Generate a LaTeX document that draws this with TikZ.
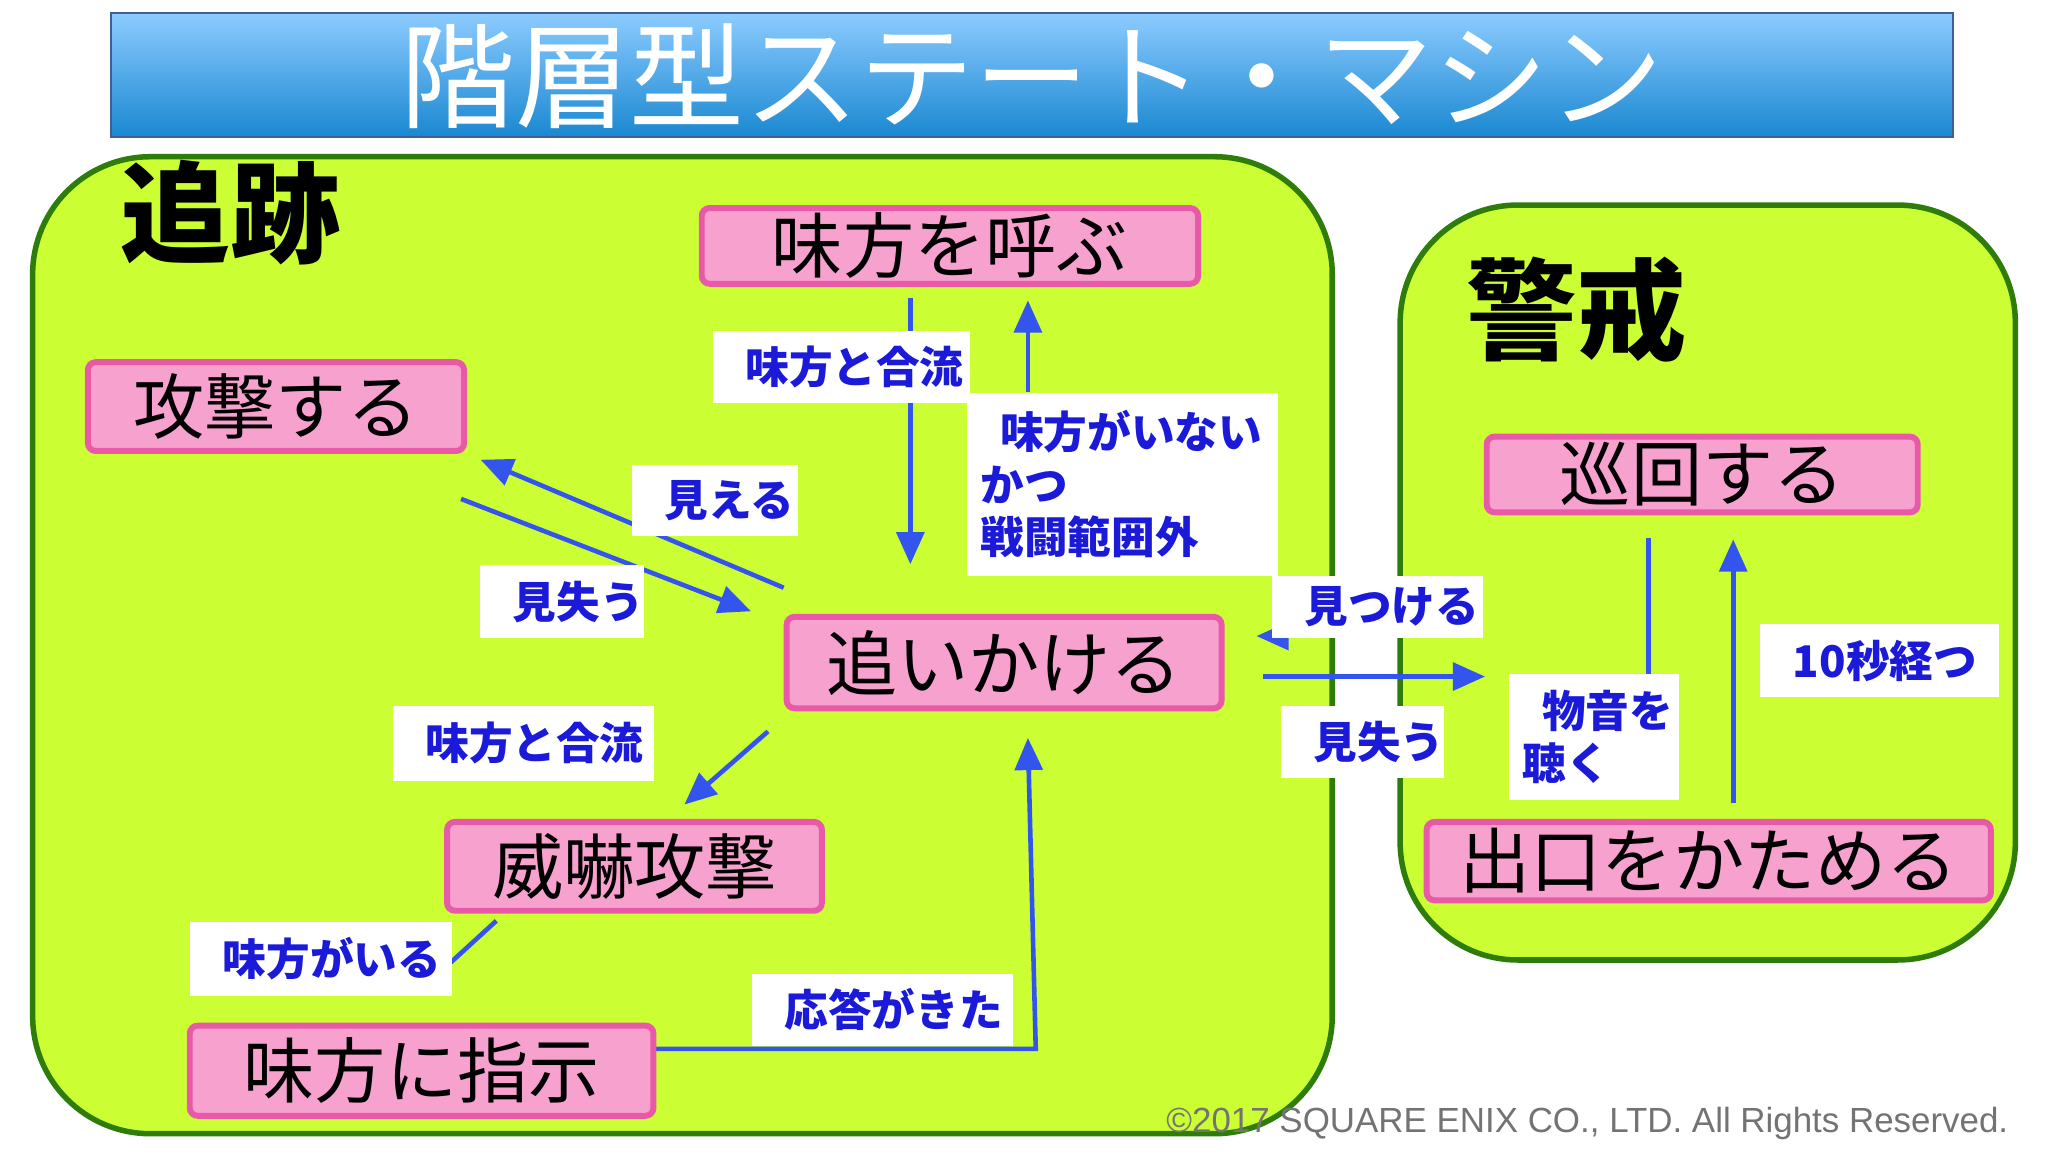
\documentclass[tikz,border=0pt]{standalone}
\usepackage{fontspec}
\setmainfont{Noto Sans CJK JP}
\newfontfamily\copyfont{Liberation Sans}
\usetikzlibrary{arrows.meta}
\definecolor{lime}{HTML}{CCFF33}
\definecolor{dgreen}{HTML}{2E7D0A}
\definecolor{pinkf}{HTML}{F7A1CF}
\definecolor{pinkd}{HTML}{E85AA8}
\definecolor{lblue}{HTML}{1A1AD8}
\definecolor{arr}{HTML}{3355EE}
\tikzset{
 x=0.01cm,y=-0.01cm,
 group/.style={draw=dgreen,line width=1.2pt,fill=lime,rounded corners=0.9cm},
 state/.style={draw=pinkd,fill=pinkf,line width=1.3pt,rounded corners=0.06cm,inner sep=0pt,font=\fontsize{15.5}{16}\selectfont,anchor=north west},
 lbl/.style={fill=white,inner sep=0pt,text=lblue,font=\fontsize{9.5}{11.5}\selectfont\bfseries\itshape,align=left,anchor=north west},
 arrw/.style={draw=arr,line width=1pt,-{Triangle[length=7pt,width=6pt]}},
 ln/.style={draw=arr,line width=1pt},
}
\newcommand{\statebox}[6]{\node[state,minimum width=#4*0.01cm,minimum height=#5*0.01cm] (#1) at (#2,#3) {#6};}
\newcommand{\lblbox}[6]{\node[lbl,minimum width=#4*0.01cm,minimum height=#5*0.01cm,text width=#4*0.01cm-0.2cm] (#1) at (#2,#3) {\hspace*{0.15cm}#6};}
\begin{document}
\begin{tikzpicture}
\useasboundingbox[fill=white] (0,0) rectangle (1568,882);
% title
\shade[top color=cyan!55!blue!45,bottom color=cyan!60!blue!80!black!90,draw=cyan!40!blue!70!black] (85,10) rectangle (1495,105);
\node[text=white,font=\fontsize{25}{26}\selectfont] (title) at (790,58) {階層型ステート・マシン};
% groups
\draw[group] (25,120) rectangle (1020,868);
\draw[group] (1072,157) rectangle (1543,735);
\node[anchor=west,font=\fontsize{24}{24}\selectfont\bfseries] (g1) at (80,163) {追跡};
\node[anchor=west,font=\fontsize{24}{24}\selectfont\bfseries] (g2) at (1110,237) {警戒};
% arrows behind labels
\coordinate (ca1) at (697,228); \coordinate (ca2) at (697,432);
\draw[arrw] (ca1) -- (ca2);
\coordinate (cb1) at (787,300); \coordinate (cb2) at (787,230);
\draw[arrw] (cb1) -- (cb2);
\coordinate (cc1) at (600,450); \coordinate (cc2) at (368,352);
\draw[arrw] (cc1) -- (cc2);
\coordinate (cd1) at (353,382); \coordinate (cd2) at (575,468);
\draw[arrw] (cd1) -- (cd2);
\coordinate (ce1) at (1000,487); \coordinate (ce2) at (962,487);
\draw[arrw] (ce1) -- (ce2);
\coordinate (cf1) at (967,518); \coordinate (cf2) at (1137,518);
\draw[arrw] (cf1) -- (cf2);
\coordinate (cg1) at (588,560); \coordinate (cg2) at (524,616);
\draw[arrw] (cg1) -- (cg2);
\coordinate (ch1) at (380,705); \coordinate (ch2) at (345,737);
\draw[ln] (ch1) -- (ch2);
\coordinate (ci1) at (498,803); \coordinate (ci2) at (793,803); \coordinate (ci3) at (787,565);
\draw[arrw] (ci1) -- (ci2) -- (ci3);
\coordinate (cj1) at (1262,412); \coordinate (cj2) at (1262,530);
\draw[ln] (cj1) -- (cj2);
\coordinate (ck1) at (1327,615); \coordinate (ck2) at (1327,413);
\draw[arrw] (ck1) -- (ck2);
% states
\statebox{s1}{535}{157}{380}{58}{味方を呼ぶ}
\statebox{s2}{65}{275}{288}{68}{攻撃する}
\statebox{s3}{600}{470}{333}{70}{追いかける}
\statebox{s4}{340}{627}{287}{68}{威嚇攻撃}
\statebox{s5}{143}{783}{355}{69}{味方に指示}
\statebox{s6}{1136}{332}{330}{58}{巡回する}
\statebox{s7}{1090}{627}{432}{60}{出口をかためる}
% labels
\lblbox{l1}{545}{253}{197}{55}{味方と合流}
\lblbox{l2}{740}{300}{238}{140}{味方がいない\\かつ\\戦闘範囲外}
\lblbox{l3}{483}{355}{127}{55}{見える}
\lblbox{l4}{367}{432}{125}{56}{見失う}
\lblbox{l5}{973}{440}{162}{48}{見つける}
\lblbox{l6}{980}{540}{125}{55}{見失う}
\lblbox{l7}{300}{540}{200}{57}{味方と合流}
\lblbox{l8}{1155}{515}{130}{97}{物音を\\聴く}
\lblbox{l9}{1347}{477}{183}{56}{10秒経つ}
\lblbox{l10}{145}{705}{200}{57}{味方がいる}
\lblbox{l11}{575}{745}{200}{55}{応答がきた}
\node[anchor=east,text=black!55,font=\copyfont\fontsize{7.6}{8}\selectfont] (copy) at (1550,860) {©2017 SQUARE ENIX CO., LTD. All Rights Reserved.};
\end{tikzpicture}
\end{document}
